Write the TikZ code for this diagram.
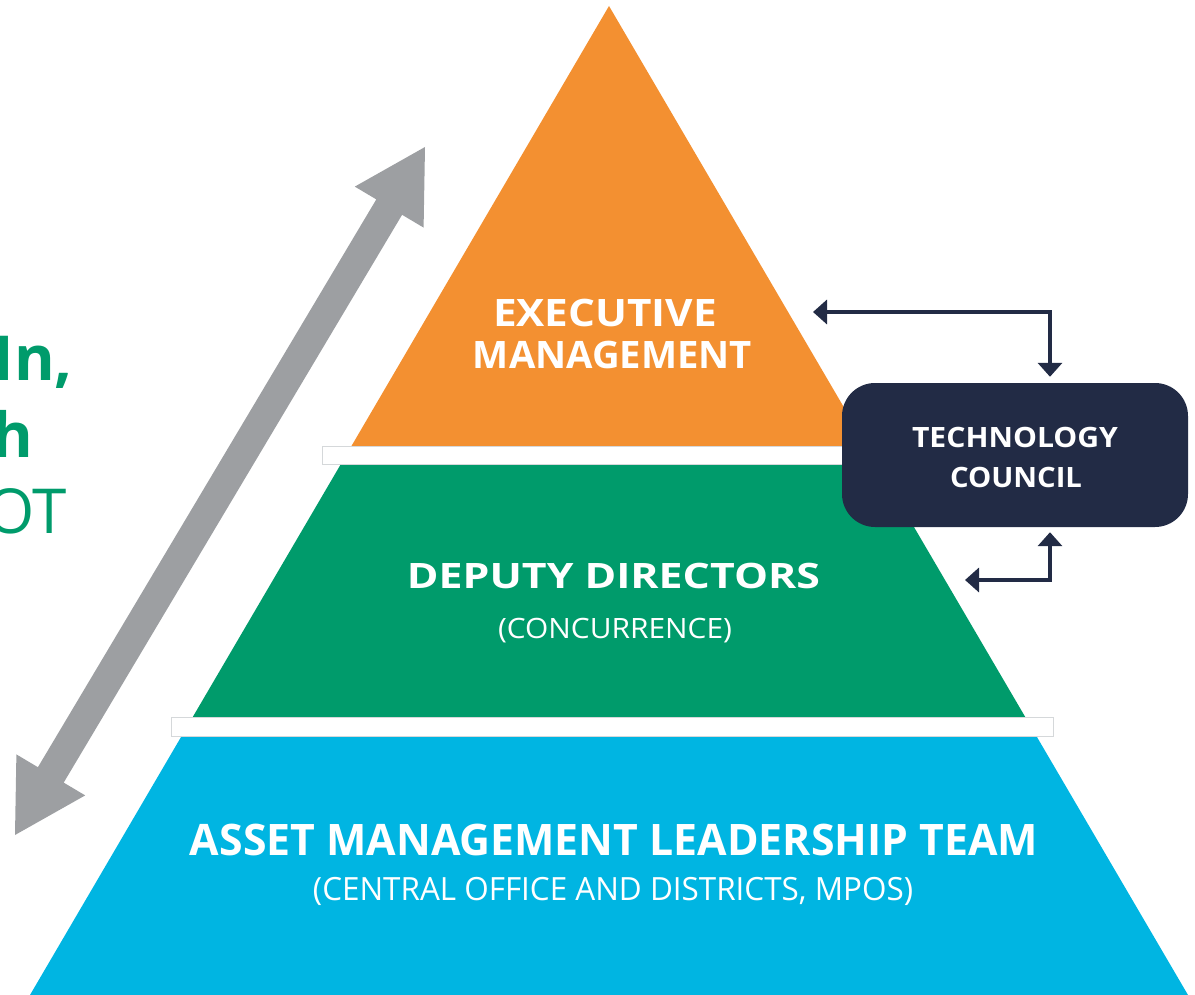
\documentclass[tikz,border=0pt]{standalone}
\usepackage{fontspec}
\usepackage{graphicx}
\setmainfont{Open Sans}
\usetikzlibrary{arrows.meta,calc}
\definecolor{orng}{HTML}{F39031}
\definecolor{grn}{HTML}{009B6B}
\definecolor{blu}{HTML}{00B5E2}
\definecolor{navy}{HTML}{222B45}
\definecolor{gry}{HTML}{9D9FA2}
\definecolor{bandline}{HTML}{D5D8DA}
\newcommand{\fitw}[2]{\resizebox{#1}{\height}{#2}}
\begin{document}
\begin{tikzpicture}[x=1pt,y=-1pt,
  band/.style={fill=white,draw=bandline,line width=0.8pt},
  lbl/.style={text=white,inner sep=0pt,anchor=base},
  sidetxt/.style={text=grn,inner sep=0pt,anchor=base east,font=\fontsize{62}{62}\selectfont},
  link/.style={draw=navy,line width=3.5pt,{Triangle[length=14pt,width=24pt]}-{Triangle[length=14pt,width=24pt]}}]
\useasboundingbox (0,0) rectangle (1195,995);
\clip (0,0) rectangle (1195,995);
% pyramid
\fill[orng] (609,6) -- (871.8,455) -- (346.2,455) -- cycle;
\fill[grn] (346.2,455) -- (871.8,455) -- (1031.1,727) -- (186.9,727) -- cycle;
\fill[blu] (186.9,727) -- (1031.1,727) -- (1188,995) -- (30,995) -- cycle;
\draw[band] (322,446) rectangle (880,464);
\draw[band] (171,717) rectangle (1053,736);
% grey double arrow
\fill[gry] (425,147) -- (423.6,227.6) -- (402.1,214.8) -- (63.7,782.6) -- (85.2,795.4) -- (15,835)
  -- (16.4,754.4) -- (37.9,767.2) -- (376.3,199.4) -- (354.8,186.6) -- cycle;
% side text
\node[sidetxt,font=\bfseries\fontsize{62}{62}\selectfont] (s1) at (73,380) {In,};
\node[sidetxt,font=\bfseries\fontsize{62}{62}\selectfont] (s2) at (33,457) {h};
\node[sidetxt] (s3) at (67,533) {OT};
% labels
\node[lbl,font=\bfseries\fontsize{37.8}{40}\selectfont] (e1) at (605,327) {\fitw{224pt}{EXECUTIVE}};
\node[lbl,font=\bfseries\fontsize{37.8}{40}\selectfont] (e2) at (612.5,368) {\fitw{279pt}{MANAGEMENT}};
\node[lbl,font=\bfseries\fontsize{35}{40}\selectfont] (d1) at (613.5,588) {\fitw{413pt}{DEPUTY DIRECTORS}};
\node[lbl,font=\fontsize{28}{30}\selectfont] (d2) at (615,638) {\fitw{234pt}{(CONCURRENCE)}};
\node[lbl,font=\bfseries\fontsize{43.4}{46}\selectfont] (a1) at (614,855) {\fitw{848pt}{ASSET MANAGEMENT LEADERSHIP TEAM}};
\node[lbl,font=\fontsize{32}{34}\selectfont] (a2) at (613,900) {\fitw{600pt}{(CENTRAL OFFICE AND DISTRICTS, MPOS)}};
% technology council
\node[fill=navy,rounded corners=33pt,minimum width=346pt,minimum height=144pt,inner sep=0pt] (tc) at (1015,455) {};
\node[lbl,font=\bfseries\fontsize{28}{30}\selectfont] (t1) at (1015,447) {\fitw{206pt}{TECHNOLOGY}};
\node[lbl,font=\bfseries\fontsize{28}{30}\selectfont] (t2) at (1016,487) {\fitw{132pt}{COUNCIL}};
% connectors
\coordinate (ex) at (813,312);
\coordinate (tcTop) at ($(tc.north)+(35,-6)$);
\coordinate (tcBot) at ($(tc.south)+(35,5)$);
\coordinate (dd) at (965,580);
\draw[link] (ex) -| (tcTop);
\draw[link] (tcBot) |- (dd);
\end{tikzpicture}
\end{document}
